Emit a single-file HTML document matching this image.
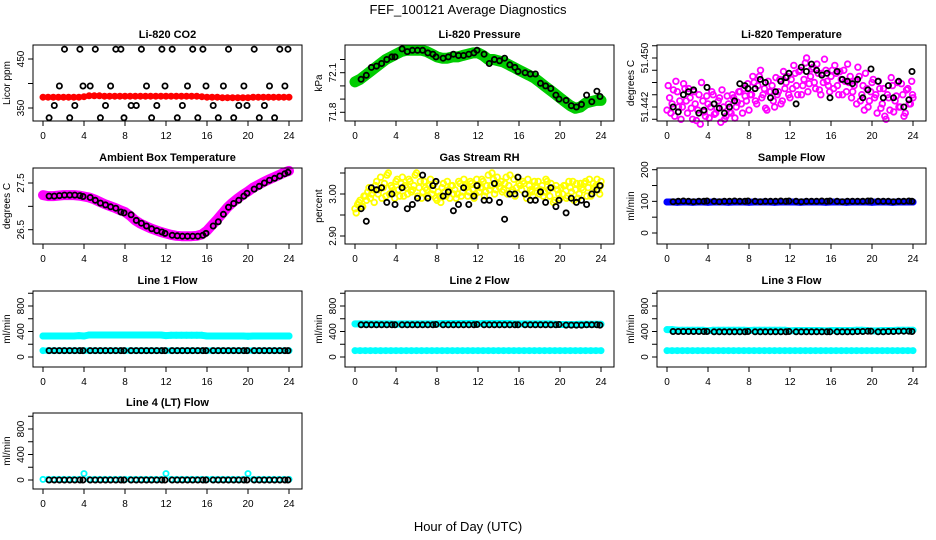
<!DOCTYPE html>
<html><head><meta charset="utf-8">
<style>
html,body{margin:0;padding:0;background:#fff;}
svg{display:block;font-family:"Liberation Sans",Arial,sans-serif;}
.t{font-size:11px;font-weight:bold;text-anchor:middle;}
.tk{font-size:10px;}
</style></head>
<body>
<svg id="c" width="936" height="540" viewBox="0 0 936 540">
<text x="468" y="14" font-size="13" text-anchor="middle">FEF_100121  Average Diagnostics</text>
<text x="468" y="531" font-size="13" text-anchor="middle">Hour of Day (UTC)</text>
</svg>
<script>
const xTicks=[0,4,8,12,16,20,24];
const colT=[0,0.5,1,1.5,2,2.5,3,3.5,4,4.5,5,5.5,6,6.5,7,7.5,8,8.5,9,9.5,10,10.5,11,11.5,12,12.5,13,13.5,14,14.5,15,15.5,16,16.5,17,17.5,18,18.5,19,19.5,20,20.5,21,21.5,22,22.5,23,23.5,24];
const blackT=[0.6,1.1,1.6,2.1,2.6,3.1,3.6,3.9,4.6,5.1,5.6,6.1,6.6,7.1,7.6,7.9,8.6,9.1,9.6,10.1,10.6,11.1,11.6,11.9,12.6,13.1,13.6,14.1,14.6,15.1,15.6,15.9,16.6,17.1,17.6,18.1,18.6,19.1,19.6,19.9,20.6,21.1,21.6,22.1,22.6,23.1,23.6,23.9];
const cloudT=[0,0.25,0.5,0.75,1,1.25,1.5,1.75,2,2.25,2.5,2.75,3,3.25,3.5,3.75,4,4.25,4.5,4.75,5,5.25,5.5,5.75,6,6.25,6.5,6.75,7,7.25,7.5,7.75,8,8.25,8.5,8.75,9,9.25,9.5,9.75,10,10.25,10.5,10.75,11,11.25,11.5,11.75,12,12.25,12.5,12.75,13,13.25,13.5,13.75,14,14.25,14.5,14.75,15,15.25,15.5,15.75,16,16.25,16.5,16.75,17,17.25,17.5,17.75,18,18.25,18.5,18.75,19,19.25,19.5,19.75,20,20.25,20.5,20.75,21,21.25,21.5,21.75,22,22.25,22.5,22.75,23,23.25,23.5,23.75,24];
const cloudT2=[0.12,0.37,0.62,0.87,1.12,1.37,1.62,1.87,2.12,2.37,2.62,2.87,3.12,3.37,3.62,3.87,4.12,4.37,4.62,4.87,5.12,5.37,5.62,5.87,6.12,6.37,6.62,6.87,7.12,7.37,7.62,7.87,8.12,8.37,8.62,8.87,9.12,9.37,9.62,9.87,10.12,10.37,10.62,10.87,11.12,11.37,11.62,11.87,12.12,12.37,12.62,12.87,13.12,13.37,13.62,13.87,14.12,14.37,14.62,14.87,15.12,15.37,15.62,15.87,16.12,16.37,16.62,16.87,17.12,17.37,17.62,17.87,18.12,18.37,18.62,18.87,19.12,19.37,19.62,19.87,20.12,20.37,20.62,20.87,21.12,21.37,21.62,21.87,22.12,22.37,22.62,22.87,23.12,23.37,23.62,23.87,23.95];

const co2Red=[372,372,372,372,372,372,372,372,373,375,375,375,374,374,374,374,374,374,374,374,374,374,374,374,374,374,374,374,374,374,374,373,372,372,372,371,371,371,371,371,371,372,372,372,372,372,372,372,372];
const co2Black=[330,355,395,470,330,355,470,395,395,470,330,355,395,470,470,330,355,355,470,395,330,355,470,395,470,330,355,395,470,330,470,395,355,330,395,470,330,355,395,355,470,330,355,395,330,470,395,470];
const presGreen=[72.03,72.05,72.08,72.11,72.14,72.17,72.20,72.22,72.24,72.26,72.27,72.27,72.27,72.27,72.26,72.24,72.22,72.21,72.21,72.22,72.22,72.23,72.24,72.25,72.25,72.23,72.20,72.20,72.19,72.18,72.16,72.14,72.12,72.10,72.08,72.06,72.03,72.00,71.97,71.94,71.91,71.88,71.85,71.83,71.84,71.87,71.88,71.89,71.89];
const presBlack=[72.05,72.08,72.14,72.15,72.17,72.20,72.22,72.22,72.28,72.26,72.27,72.27,72.27,72.25,72.24,72.22,72.21,72.22,72.24,72.23,72.23,72.24,72.25,72.27,72.24,72.17,72.20,72.19,72.21,72.16,72.14,72.11,72.10,72.09,72.09,72.02,72.00,71.98,71.93,71.90,71.89,71.85,71.84,71.86,71.93,71.88,71.96,71.92];
const tempCloud=[51.4415,51.4435,51.4425,51.4405,51.4445,51.4430,51.4420,51.4450,51.4410,51.4435,51.4400,51.4425,51.4415,51.4392,51.4430,51.4405,51.4425,51.4420,51.4440,51.4410,51.4430,51.4395,51.4420,51.4405,51.4425,51.4410,51.4435,51.4420,51.4445,51.4425,51.4450,51.4430,51.4415,51.4440,51.4460,51.4425,51.4470,51.4435,51.4450,51.4415,51.4445,51.4455,51.4420,51.4440,51.4465,51.4430,51.4450,51.4470,51.4435,51.4450,51.4475,51.4440,51.4480,51.4455,51.4492,51.4445,51.4470,51.4485,51.4450,51.4475,51.4440,51.4460,51.4480,51.4455,51.4470,51.4450,51.4475,51.4440,51.4465,51.4480,51.4445,51.4460,51.4435,51.4455,51.4425,51.4470,51.4440,51.4415,51.4450,51.4430,51.4460,51.4435,51.4410,51.4450,51.4425,51.4405,51.4440,51.4415,51.4455,51.4430,51.4460,51.4420,51.4440,51.4410,51.4450,51.4425,51.4435];
const tempCloud2=[51.4455,51.4410,51.4448,51.4462,51.4420,51.4400,51.4458,51.4430,51.4450,51.4418,51.4445,51.4398,51.4440,51.4460,51.4412,51.4438,51.4402,51.4445,51.4408,51.4418,51.4435,51.4448,51.4400,51.4438,51.4412,51.4440,51.4402,51.4428,51.4445,51.4410,51.4438,51.4458,51.4440,51.4470,51.4430,51.4455,51.4480,51.4440,51.4418,51.4462,51.4445,51.4430,51.4468,51.4445,51.4425,51.4478,51.4460,51.4440,51.4465,51.4488,51.4455,51.4478,51.4440,51.4465,51.4500,51.4458,51.4482,51.4460,51.4490,51.4448,51.4475,51.4498,51.4462,51.4445,51.4480,51.4488,51.4455,51.4478,51.4440,51.4462,51.4490,51.4470,51.4445,51.4462,51.4485,51.4430,51.4455,51.4475,51.4420,51.4445,51.4465,51.4440,51.4462,51.4418,51.4450,51.4400,51.4435,51.4468,51.4412,51.4438,51.4420,51.4458,51.4405,51.4448,51.4425,51.4462,51.4440];
const tempBlack=[51.4420,51.4412,51.4440,51.4445,51.4448,51.4410,51.4415,51.4452,51.4425,51.4418,51.4410,51.4420,51.4430,51.4458,51.4455,51.4450,51.4450,51.4465,51.4460,51.4435,51.4445,51.4462,51.4468,51.4475,51.4425,51.4485,51.4478,51.4490,51.4480,51.4472,51.4475,51.4435,51.4478,51.4465,51.4462,51.4458,51.4465,51.4435,51.4448,51.4482,51.4462,51.4435,51.4455,51.4435,51.4462,51.4420,51.4432,51.4478];
const rhCloud=[2.965,2.975,2.985,2.970,2.995,3.005,2.990,3.010,3.020,3.000,3.040,3.015,2.995,3.050,3.020,3.005,3.030,3.010,3.025,2.995,3.015,3.035,3.005,3.020,3.050,3.015,2.990,3.030,3.010,3.020,3.000,3.025,2.985,2.995,3.015,3.005,3.030,2.990,3.020,3.010,3.000,3.025,3.005,3.020,2.995,3.030,3.010,3.000,3.020,3.015,3.030,3.005,3.045,3.020,3.035,3.010,3.025,3.030,3.010,3.040,3.020,3.005,3.035,3.015,3.025,3.010,3.025,2.990,3.020,3.005,3.030,3.015,3.000,3.020,3.005,3.030,2.995,3.015,2.985,3.010,2.990,3.000,3.020,2.995,3.015,3.030,3.010,2.990,3.025,3.010,3.030,3.015,2.995,3.025,3.020,3.010,3.030];
const rhCloud2=[2.955,2.980,2.970,2.995,2.985,3.015,3.000,2.980,3.030,3.010,2.990,3.025,3.045,3.000,3.015,2.990,3.035,2.995,3.040,3.020,3.000,3.030,3.010,3.045,2.995,3.030,3.005,3.015,2.995,3.035,3.010,2.990,3.005,2.980,3.025,2.995,3.010,3.020,3.000,2.990,3.030,2.995,3.035,3.015,3.005,3.025,2.990,3.035,3.005,3.035,2.995,3.020,3.010,3.050,3.000,3.040,3.015,3.005,3.025,3.000,3.045,3.010,2.995,3.040,3.020,3.030,3.000,3.035,3.010,2.995,3.020,3.030,3.010,2.995,3.035,3.010,3.025,2.980,3.020,3.000,3.015,3.020,2.990,3.030,3.005,2.985,3.025,3.000,3.015,3.025,2.995,3.035,3.000,3.015,3.035,3.000,3.020];
const rhBlack=[2.965,2.935,3.015,3.010,3.015,2.980,3.000,2.975,3.015,2.965,2.975,2.990,3.045,2.990,3.020,3.030,2.995,3.005,2.960,2.975,3.015,2.975,2.995,3.020,2.985,2.985,3.025,2.980,2.940,3.000,3.000,3.040,3.000,2.985,2.985,3.005,2.980,3.015,2.970,2.985,2.955,2.990,2.980,2.985,2.975,3.000,3.010,3.020];
const ambMag=[27.24,27.22,27.22,27.23,27.24,27.24,27.24,27.23,27.21,27.19,27.15,27.10,27.05,27.01,26.97,26.92,26.88,26.80,26.70,26.63,26.58,26.53,26.49,26.45,26.42,26.39,26.37,26.36,26.36,26.36,26.37,26.40,26.48,26.60,26.72,26.85,26.98,27.08,27.17,27.25,27.32,27.40,27.46,27.52,27.57,27.62,27.67,27.72,27.76];
const ambBlack=[27.22,27.22,27.23,27.24,27.24,27.24,27.23,27.21,27.19,27.13,27.07,27.03,26.99,26.96,26.88,26.86,26.82,26.70,26.64,26.58,26.52,26.48,26.45,26.42,26.38,26.37,26.36,26.36,26.36,26.36,26.38,26.42,26.58,26.67,26.83,26.98,27.06,27.13,27.22,27.28,27.37,27.43,27.50,27.56,27.60,27.65,27.70,27.73];
const sampBlue=[98,98,97,98,98,97,98,98,97,98,98,98,97,98,98,98,97,98,98,98,98,97,98,98,98,98,97,98,98,98,98,97,98,98,98,97,98,98,98,98,97,98,98,98,97,98,98,98,98];
const sampBlack=[99,100,101,100,99,100,100,101,100,99,100,100,101,100,100,101,100,99,100,100,100,101,100,101,100,99,100,100,100,101,100,101,100,99,100,100,100,100,101,101,100,100,100,99,100,100,101,100];
const l1High=[330,330,330,330,330,330,330,335,330,345,345,345,345,345,345,345,345,345,345,345,345,345,345,345,335,340,340,340,340,340,340,340,330,330,330,330,330,330,330,330,325,330,330,330,330,330,330,330,330];
const l1Low=[100,100,100,100,100,100,100,100,100,100,100,100,100,100,100,100,100,100,100,100,100,100,100,100,100,100,100,100,100,100,100,100,100,100,100,100,100,100,100,100,100,100,100,100,100,100,100,100,100];
const l1Black=[100,100,100,100,100,100,100,100,100,100,100,100,100,100,100,100,100,100,100,100,100,100,100,100,100,100,100,100,100,100,100,100,100,100,100,100,100,100,100,100,100,100,100,100,100,100,100,100];
const l2High=[520,520,520,520,520,520,520,520,515,520,520,520,520,520,520,520,520,525,525,525,525,525,525,525,520,525,525,525,525,525,525,520,520,520,520,520,520,520,520,515,510,510,510,510,515,515,515,515,515];
const l2Low=[100,100,100,100,100,100,100,100,100,100,100,100,100,100,100,100,100,100,100,100,100,100,100,100,100,100,100,100,100,100,100,100,100,100,100,100,100,100,100,100,100,100,100,100,100,100,100,100,100];
const l2Black=[505,505,505,505,505,505,505,505,505,505,505,505,505,505,505,510,505,505,505,505,505,505,505,510,505,505,505,505,505,505,505,505,505,505,505,505,505,505,505,510,500,500,500,500,505,505,505,500];
const l3High=[430,430,420,420,420,420,420,420,410,420,420,420,420,420,420,420,415,420,420,420,420,420,420,420,410,415,415,415,415,415,415,410,415,415,415,415,415,420,420,415,410,410,415,415,415,420,420,420,420];
const l3Low=[100,100,100,100,100,100,100,100,100,100,100,100,100,100,100,100,100,100,100,100,100,100,100,100,100,100,100,100,100,100,100,100,100,100,100,100,100,100,100,100,100,100,100,100,100,100,100,100,100];
const l3Black=[400,400,400,400,400,400,400,400,395,395,395,395,395,395,395,400,395,395,395,395,395,395,395,400,395,395,395,395,395,395,395,395,395,395,395,395,400,400,405,405,395,395,400,400,405,405,405,400];
const l4Cyan=[10,10,10,10,10,10,10,10,100,10,10,10,10,10,10,10,10,10,10,10,10,10,10,10,100,10,10,10,10,10,10,10,10,10,10,10,10,10,10,10,100,10,10,10,10,10,10,10,10];
const l4Black=[0,0,0,0,0,0,0,0,0,0,0,0,0,0,0,0,0,0,0,0,0,0,0,0,0,0,0,0,0,0,0,0,0,0,0,0,0,0,0,0,0,0,0,0,0,0,0,0];

const flowTicks=[0,200,400,600,800,1000];
const flowLabels=[0,400,800];

const svg=document.getElementById('c');
const NS='http://www.w3.org/2000/svg';
function mk(tag,attrs,parent){const e=document.createElementNS(NS,tag);for(const k in attrs)e.setAttribute(k,attrs[k]);parent.appendChild(e);return e;}

const colX=[33,345,657], rowY=[45,168,291,413], W=269, H=76;

function panel(o){
  const L=colX[o.col], T=rowY[o.row];
  const g=mk('g',{},svg);
  
  
  const xs=h=>L+10+h*(246/24);
  const ys=v=>T+o.r0+(v-o.v0)*(o.r1-o.r0)/(o.v1-o.v0);
  o.series.forEach(s=>{
    const n=Math.min(s.x.length,s.y.length);
    const sg=mk('g',{},g);
    
    
    if(s.band){
      let d='';
      for(let i=0;i<n;i++)d+=(i?'L':'M')+xs(s.x[i]).toFixed(1)+' '+ys(s.y[i]).toFixed(1);
      const p=mk('path',{d:d,fill:'none',stroke:s.color,'stroke-width':s.band,'stroke-linecap':'round','stroke-linejoin':'round'},sg);
      
      
    }
    for(let i=0;i<n;i++){
      const c=mk('circle',{cx:xs(s.x[i]).toFixed(1),cy:ys(s.y[i]).toFixed(1),r:s.r||2.6,fill:'none',stroke:s.color,'stroke-width':s.sw||1.8},sg);
      
      
    }
  });
  const b=mk('rect',{x:L,y:T,width:W,height:H,fill:'none',stroke:'#000','stroke-width':1},g);
  
  
  const t=mk('text',{x:L+W/2,y:T-7,class:'t'},g);t.textContent=o.title;
  
  
  xTicks.forEach(v=>{
    mk('line',{x1:xs(v),x2:xs(v),y1:T+H,y2:T+H+5,stroke:'#000'},g);
    const tx=mk('text',{x:xs(v),y:T+H+18,class:'tk','text-anchor':'middle'},g);tx.textContent=v;
    
    
  });
  o.yt.forEach(v=>{const y=ys(v);if(y<T-3||y>T+H+3)return;mk('line',{x1:L-5,x2:L,y1:y,y2:y,stroke:'#000'},g);});
  o.yl.forEach((v,i)=>{
    const y=ys(v);
    const tx=mk('text',{x:L-9,y:y,class:'tk','text-anchor':'middle',transform:'rotate(-90 '+(L-9)+' '+y+')'},g);
    tx.textContent=o.ylt?o.ylt[i]:v;
    
    
  });
  const yl=mk('text',{x:L-23,y:T+H/2,class:'tk','text-anchor':'middle',transform:'rotate(-90 '+(L-23)+' '+(T+H/2)+')'},g);
  yl.textContent=o.ylab;
  
  
}

panel({name:'panel-co2',col:0,row:0,title:'Li-820 CO2',ylab:'Licor ppm',v0:450,r0:14,v1:350,r1:63,yt:[350,400,450],yl:[350,450],
  series:[{name:'co2-avg',x:colT,y:co2Red,color:'#ff0000',band:5},{name:'co2-raw',x:blackT,y:co2Black,color:'#000'}]});
panel({name:'panel-pressure',col:1,row:0,title:'Li-820 Pressure',ylab:'kPa',v0:72.1,r0:27.7,v1:71.8,r1:67.3,yt:[71.8,71.9,72.0,72.1,72.2],yl:[71.8,72.1],ylt:['71.8','72.1'],
  series:[{name:'pressure-avg',x:colT,y:presGreen,color:'#00cc00',band:11},{name:'pressure-raw',x:blackT,y:presBlack,color:'#000'}]});
panel({name:'panel-licor-temp',col:2,row:0,title:'Li-820 Temperature',ylab:'degrees C',v0:51.450,r0:13,v1:51.442,r1:62,yt:[51.440,51.442,51.444,51.446,51.448,51.450,51.452],yl:[51.442,51.450],ylt:['51.442','51.450'],
  series:[{name:'licor-temp-avg',x:cloudT,y:tempCloud,color:'#ff00ff',r:2.8},{name:'licor-temp-avg-2',x:cloudT2,y:tempCloud2,color:'#ff00ff',r:2.8},{name:'licor-temp-raw',x:blackT,y:tempBlack,color:'#000'}]});
panel({name:'panel-ambient-temp',col:0,row:1,title:'Ambient Box Temperature',ylab:'degrees C',v0:27.5,r0:15,v1:26.5,r1:61.7,yt:[26.5,27.0,27.5],yl:[26.5,27.5],ylt:['26.5','27.5'],
  series:[{name:'ambient-avg',x:colT,y:ambMag,color:'#ff00ff',band:10},{name:'ambient-raw',x:blackT,y:ambBlack,color:'#000'}]});
panel({name:'panel-rh',col:1,row:1,title:'Gas Stream RH',ylab:'percent',v0:3.0,r0:26,v1:2.9,r1:68,yt:[2.90,2.95,3.00,3.05],yl:[2.9,3.0],ylt:['2.90','3.00'],
  series:[{name:'rh-avg',x:cloudT,y:rhCloud,color:'#ffff00',r:2.8},{name:'rh-avg-2',x:cloudT2,y:rhCloud2,color:'#ffff00',r:2.8},{name:'rh-raw',x:blackT,y:rhBlack,color:'#000'}]});
panel({name:'panel-sample-flow',col:2,row:1,title:'Sample Flow',ylab:'ml/min',v0:200,r0:1.7,v1:0,r1:65,yt:[0,50,100,150,200],yl:[0,100,200],
  series:[{name:'sample-flow-avg',x:colT,y:sampBlue,color:'#0000ff',band:7},{name:'sample-flow-raw',x:blackT,y:sampBlack,color:'#000'}]});
panel({name:'panel-line1',col:0,row:2,title:'Line 1 Flow',ylab:'ml/min',v0:0,r0:66,v1:800,r1:15,yt:flowTicks,yl:flowLabels,
  series:[{name:'line1-high',x:colT,y:l1High,color:'#00ffff',band:7},{name:'line1-low',x:colT,y:l1Low,color:'#00ffff',band:6},{name:'line1-raw',x:blackT,y:l1Black,color:'#000'}]});
panel({name:'panel-line2',col:1,row:2,title:'Line 2 Flow',ylab:'ml/min',v0:0,r0:66,v1:800,r1:15,yt:flowTicks,yl:flowLabels,
  series:[{name:'line2-high',x:colT,y:l2High,color:'#00ffff',band:7},{name:'line2-low',x:colT,y:l2Low,color:'#00ffff',band:6},{name:'line2-raw',x:blackT,y:l2Black,color:'#000'}]});
panel({name:'panel-line3',col:2,row:2,title:'Line 3 Flow',ylab:'ml/min',v0:0,r0:66,v1:800,r1:15,yt:flowTicks,yl:flowLabels,
  series:[{name:'line3-high',x:colT,y:l3High,color:'#00ffff',band:7},{name:'line3-low',x:colT,y:l3Low,color:'#00ffff',band:6},{name:'line3-raw',x:blackT,y:l3Black,color:'#000'}]});
panel({name:'panel-line4',col:0,row:3,title:'Line 4 (LT) Flow',ylab:'ml/min',v0:0,r0:67,v1:800,r1:16,yt:flowTicks,yl:flowLabels,
  series:[{name:'line4-avg',x:colT,y:l4Cyan,color:'#00ffff'},{name:'line4-raw',x:blackT,y:l4Black,color:'#000'}]});
</script>
</body></html>
